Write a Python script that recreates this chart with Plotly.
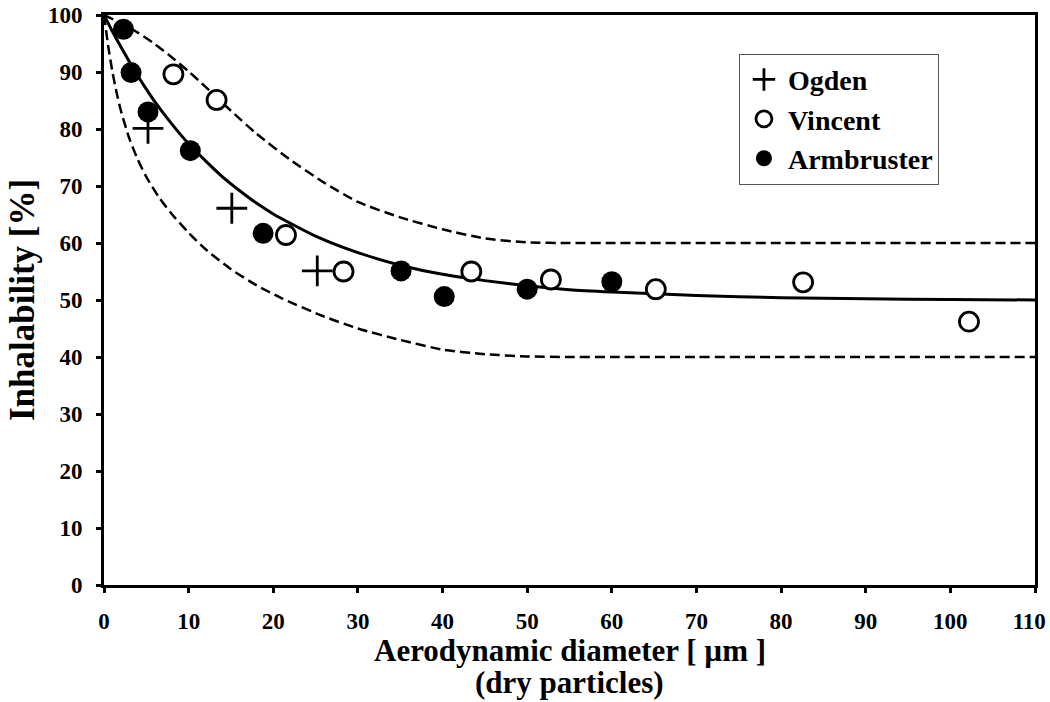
import plotly.graph_objects as go

# ---- data ----
ogden_x = [5.2, 15.1, 25.2]
ogden_y = [80.1, 66.1, 55.1]

vincent_x = [8.2, 13.3, 21.5, 28.3, 43.4, 52.8, 65.2, 82.6, 102.2]
vincent_y = [89.6, 85.1, 61.4, 55.0, 55.0, 53.6, 51.9, 53.1, 46.2]

armbruster_x = [2.3, 3.2, 5.2, 10.2, 18.8, 35.1, 40.2, 50.0, 60.0]
armbruster_y = [97.5, 89.9, 83.0, 76.2, 61.7, 55.1, 50.6, 51.9, 53.2]

fit_x = [0, 1, 2, 3, 4, 5, 6, 8, 10, 12, 14, 16, 18, 20, 25, 30, 35, 40, 45, 50,
         55, 60, 70, 80, 90, 100, 110]
fit_y = [100, 97.1, 94.4, 91.8, 89.3, 87.0, 84.8, 80.9, 77.4, 74.4, 71.6, 69.2,
         67.0, 65.1, 61.2, 58.3, 56.1, 54.5, 53.4, 52.5, 51.8, 51.4, 50.8, 50.4,
         50.2, 50.1, 50.0]

upper_x = [0, 2, 4, 6, 8, 10, 12, 15, 18, 22, 26, 30, 35, 40, 45, 50, 55, 60, 70,
           80, 90, 100, 110]
upper_y = [100, 98.6, 96.9, 94.9, 92.6, 90.1, 87.4, 83.2, 79.2, 74.6, 70.6, 67.2,
           64.5, 62.4, 60.8, 60.1, 60, 60, 60, 60, 60, 60, 60]

lower_x = [0, 0.5, 1, 1.5, 2, 3, 4, 5, 6.5, 8, 10, 12, 15, 18, 21, 26, 30, 35, 40,
           45, 50, 55, 60, 70, 80, 90, 100, 110]
lower_y = [100, 94.5, 90, 86.3, 83.2, 78.3, 74.6, 71.6, 68.0, 65.1, 61.8, 58.9,
           55.4, 52.6, 50.3, 47.1, 45.0, 43.0, 41.3, 40.5, 40.1, 40, 40, 40, 40,
           40, 40, 40]

x_ticks = [0, 10, 20, 30, 40, 50, 60, 70, 80, 90, 100, 110]
x_tick_text = ["0", "10", "20", "30", "40", "50", "60", "70", "80", "90", "100",
               "110\u00a0\u00a0"]
y_ticks = [0, 10, 20, 30, 40, 50, 60, 70, 80, 90, 100]

FONT = "Liberation Serif, Times New Roman, serif"

fig = go.Figure()

dash_style = dict(color="black", width=2.5, dash="10px,5px",
                  shape="spline", smoothing=0.6)
fig.add_trace(go.Scatter(x=upper_x, y=upper_y, mode="lines", showlegend=False,
                         line=dash_style, hoverinfo="skip"))
fig.add_trace(go.Scatter(x=lower_x, y=lower_y, mode="lines", showlegend=False,
                         line=dash_style, hoverinfo="skip"))
fig.add_trace(go.Scatter(x=fit_x, y=fit_y, mode="lines", showlegend=False,
                         line=dict(color="black", width=3,
                                   shape="spline", smoothing=0.6),
                         hoverinfo="skip"))

fig.add_trace(go.Scatter(x=ogden_x, y=ogden_y, mode="markers", name="Ogden",
                         marker=dict(symbol="cross-thin", size=22, color="black",
                                     line=dict(color="black", width=2.8))))
fig.add_trace(go.Scatter(x=vincent_x, y=vincent_y, mode="markers", name="Vincent",
                         marker=dict(symbol="circle", size=19, color="white",
                                     line=dict(color="black", width=2.8))))
fig.add_trace(go.Scatter(x=armbruster_x, y=armbruster_y, mode="markers",
                         name="Armbruster",
                         marker=dict(symbol="circle", size=21, color="black",
                                     line=dict(color="black", width=0))))

axis_common = dict(showline=True, linecolor="black", linewidth=3, mirror=True,
                   ticks="outside", ticklen=5, tickwidth=2.5, tickcolor="black",
                   showgrid=False, zeroline=False, ticklabeloverflow="allow",
                   automargin=False,
                   tickfont=dict(family=FONT, size=23, color="black", weight="bold"))

fig.update_xaxes(range=[0, 110], tickvals=x_ticks, ticktext=x_tick_text,
                 ticklabelstandoff=8, **axis_common)
fig.update_yaxes(range=[0, 100], tickvals=y_ticks, ticklabelstandoff=9,
                 **axis_common)

fig.update_layout(
    width=1050, height=702,
    margin=dict(l=104, r=15, t=15, b=117, autoexpand=False),
    plot_bgcolor="white", paper_bgcolor="white",
    font=dict(family=FONT, color="black", weight="bold"),
    legend=dict(x=0.682, y=0.932, xanchor="left", yanchor="top",
                bgcolor="white", bordercolor="#555555", borderwidth=1,
                font=dict(family=FONT, size=28, color="black", weight="bold"),
                itemsizing="trace", itemwidth=38, tracegroupgap=0),
    annotations=[
        dict(text="Aerodynamic diameter [ µm ]",
             xref="paper", yref="paper", x=0.5, y=0, xanchor="center",
             yanchor="middle", yshift=-65, showarrow=False,
             font=dict(family=FONT, size=31, color="black", weight="bold")),
        dict(text="(dry particles)",
             xref="paper", yref="paper", x=0.5, y=0, xanchor="center",
             yanchor="middle", yshift=-97, showarrow=False,
             font=dict(family=FONT, size=31, color="black", weight="bold")),
        dict(text="Inhalability [%]", textangle=-90,
             xref="paper", yref="paper", x=0, y=0.5, xanchor="center",
             yanchor="middle", xshift=-82, showarrow=False,
             font=dict(family=FONT, size=35, color="black", weight="bold")),
    ],
)

fig.write_html("out.html")
